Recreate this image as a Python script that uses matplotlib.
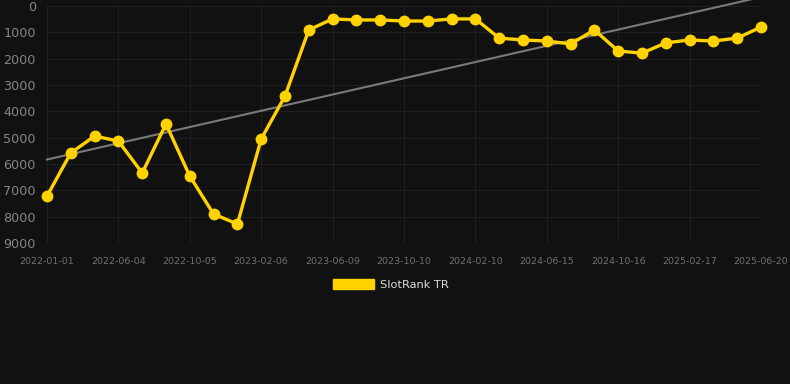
import numpy as np
import matplotlib
matplotlib.use("Agg")
import matplotlib.pyplot as plt
from matplotlib.patches import Patch

# SlotRank TR position over time (lower is better, axis is inverted)
tick_labels = ["2022-01-01", "2022-06-04", "2022-10-05", "2023-02-06", "2023-06-09",
               "2023-10-10", "2024-02-10", "2024-06-15", "2024-10-16", "2025-02-17",
               "2025-06-20"]
rank = [7220, 5580, 4940, 5130, 6340, 4480, 6460, 7900, 8280, 5050,
        3420, 910, 490, 530, 530, 570, 570, 490, 490, 1220,
        1290, 1330, 1440, 910, 1710, 1790, 1400, 1290, 1330, 1220,
        800]
y_ticks = [0, 1000, 2000, 3000, 4000, 5000, 6000, 7000, 8000, 9000]

bg = "#111111"
gold = "#FFD200"

x = np.arange(len(rank))
fig = plt.figure(figsize=(7.9, 3.84), dpi=100, facecolor=bg)
ax = fig.add_axes([47 / 790, 1 - 243 / 384, 714 / 790, 237 / 384])
ax.set_facecolor(bg)

# trend line (least squares fit)
k, b = np.polyfit(x, rank, 1)
ax.plot(x, k * x + b, color="#7a7a7a", lw=1.5, clip_on=False, zorder=2)

ax.plot(x, rank, color=gold, lw=2.4, marker="o", markersize=7.5,
        markerfacecolor=gold, markeredgecolor=gold, zorder=3, clip_on=False)

ax.set_xlim(0, len(rank) - 1)
ax.set_ylim(9000, 0)
ax.set_xticks(x[::3])
ax.set_xticklabels(tick_labels)
ax.set_yticks(y_ticks)

ax.grid(True, color="#1f1f1f", lw=0.8)
ax.set_axisbelow(True)
for s in ax.spines.values():
    s.set_visible(False)
ax.tick_params(axis="y", colors="#858585", labelsize=9.2, length=0, pad=8)
ax.tick_params(axis="x", colors="#707070", labelsize=6.8, length=0, pad=10)

fig.legend(handles=[Patch(color=gold, label="SlotRank TR")], loc="upper center",
           bbox_to_anchor=(0.5 - 4 / 790, 1 - 269 / 384), frameon=False,
           labelcolor="#dddddd", fontsize=8.2, handlelength=3.6, handleheight=1.0,
           handletextpad=0.5)

fig.savefig("out.png", dpi=100, facecolor=bg)
